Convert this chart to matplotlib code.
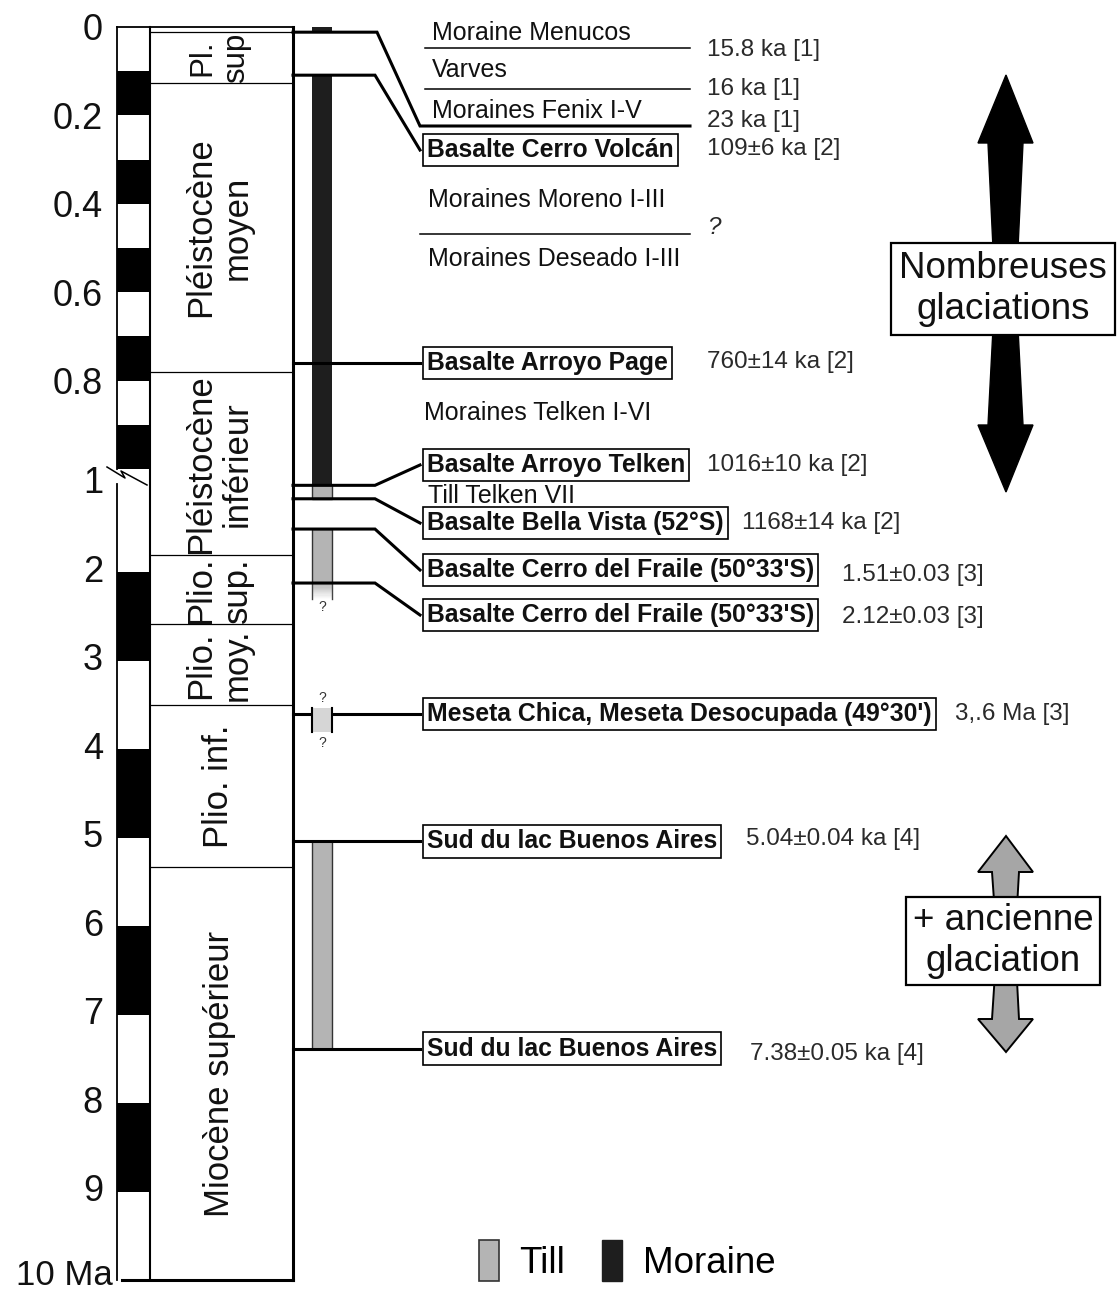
import numpy as np
import matplotlib
matplotlib.use("Agg")
import matplotlib.pyplot as plt
from matplotlib.patches import Patch, Polygon

plt.rcParams['font.family'] = ['Liberation Sans', 'DejaVu Sans']

# ---------------- data ----------------
tick_ages = [0, 0.2, 0.4, 0.6, 0.8, 1, 2, 3, 4, 5, 6, 7, 8, 9, 10]
tick_labels = ["0", "0.2", "0.4", "0.6", "0.8", "1", "2", "3", "4", "5",
               "6", "7", "8", "9", "10 Ma"]

normal_start = [0.1, 0.3, 0.5, 0.7, 0.9, 2, 4, 6, 8]
normal_end = [0.2, 0.4, 0.6, 0.8, 1.0, 3, 5, 7, 9]

epoch_names = ["", "Pl.\nsup", "Pléistocène\nmoyen", "Pléistocène\ninférieur",
               "Plio.\nsup.", "Plio.\nmoy.", "Plio. inf.", "Miocène supérieur"]
epoch_bounds = [0, 0.0117, 0.126, 0.781, 1.806, 2.588, 3.5, 5.33, 10]

moraine_start = [0.0, 0.109]
moraine_end = [0.01, 1.016]
till_start = [1.016, 1.51, 5.04]
till_end = [1.168, 2.12, 7.38]
till_fade = [2.12, 2.30]
till_uncertain = [3.53, 3.80]

dated_sites = ["Basalte Cerro Volcán", "Basalte Arroyo Page", "Basalte Arroyo Telken",
               "Basalte Bella Vista (52°S)", "Basalte Cerro del Fraile (50°33'S)",
               "Basalte Cerro del Fraile (50°33'S)",
               "Meseta Chica, Meseta Desocupada (49°30')",
               "Sud du lac Buenos Aires", "Sud du lac Buenos Aires"]
dated_ages = [0.109, 0.760, 1.016, 1.168, 1.51, 2.12, 3.6, 5.04, 7.38]
dated_values = ["109±6 ka [2]", "760±14 ka [2]", "1016±10 ka [2]", "1168±14 ka [2]",
                "1.51±0.03 [3]", "2.12±0.03 [3]", "3,.6 Ma [3]",
                "5.04±0.04 ka [4]", "7.38±0.05 ka [4]"]

deposit_names = ["Moraine Menucos", "Varves", "Moraines Fenix I-V",
                 "Moraines Moreno I-III", "Moraines Deseado I-III",
                 "Moraines Telken I-VI", "Till Telken VII"]
young_values = ["15.8 ka [1]", "16 ka [1]", "23 ka [1]", "?"]
holocene_base = 0.0117

legend_labels = ["Till", "Moraine"]

# ---------------- broken time scale ----------------
U0, U1, L1, LS, EPS = 27.0, 469.0, 484.0, 88.5, 1e-3


def fwd(a):
    a = np.asarray(a, dtype=float)
    up = U0 + (U1 - U0) * a
    br = U1 + (L1 - U1) * (a - 1) / EPS
    lo = L1 + LS * (a - 1 - EPS)
    return np.where(a <= 1, up, np.where(a <= 1 + EPS, br, lo))


def inv(p):
    p = np.asarray(p, dtype=float)
    up = (p - U0) / (U1 - U0)
    br = 1 + (p - U1) / (L1 - U1) * EPS
    lo = 1 + EPS + (p - L1) / LS
    return np.where(p <= U1, up, np.where(p <= L1, br, lo))


def R(px):
    return float(inv(px))


def P(age):
    return float(fwd(age))


# ---------------- layout ----------------
XP0, XP1, XS1 = 117, 150, 293
XM0, XM1 = 312, 332
XK, XB = 375, 420
site_rows = [150, None, 465, 523, 570, 615, None, None, None]
site_date_x = [707, 707, 707, 742, 842, 842, 955, 746, 750]
site_date_dy = [-1, -1, 0, 0, 5, 2, 0, -2, 5]
deposit_rows = [33, 70, 111, 200, 259, 413, 496]
deposit_x = [432, 432, 432, 428, 428, 424, 428]
young_rows = [50, 89, 121, 228]

fig = plt.figure(figsize=(11.18, 12.94), dpi=100)
ax = fig.add_axes([0, 0, 1, 1])
ax.set_yscale('function', functions=(fwd, inv))
ax.set_autoscale_on(False)
ax.set_xlim(0, 1118)
ax.set_ylim(R(1294), R(0))
ax.axis('off')

K = 'black'
# polarity column
for s, e in zip(normal_start, normal_end):
    if s >= 1:
        s = max(s, 1 + EPS)
    ax.bar((XP0 + XP1) / 2, e - s, width=XP1 - XP0, bottom=s, color=K,
           linewidth=0, zorder=2)
ax.plot([XP0, XP0], [0, 1], color=K, lw=1.3, zorder=3)
ax.plot([XP0, XP0], [1 + EPS, 10], color=K, lw=1.3, zorder=3)
ax.plot([XP0, XS1], [0, 0], color=K, lw=1.3, zorder=3)
ax.plot([XP1, XP1], [0, 10], color=K, lw=1.5, zorder=3)
ax.plot([XS1, XS1], [0, 10], color=K, lw=2.2, zorder=3)
ax.plot([XP0 + 5, XS1], [10, 10], color=K, lw=2.2, zorder=3)
# break marker
ax.plot([107, 125, 121, 147], [R(467), R(478), R(471), R(485)], color=K, lw=1.1, zorder=3)

# tick labels
for t, lab in zip(tick_ages, tick_labels):
    fs = 26
    if t < 1:
        y = R(P(t) + 4)
    elif t == 1:
        y = 1 + EPS
    elif t == 10:
        y = R(P(t) - 5)
        fs = 25
    else:
        y = t
    x = 103 if lab != "10 Ma" else 113
    ax.text(x, y, lab, ha='right', va='center', fontsize=fs, color='#111')

# epochs
for b in epoch_bounds[1:-1]:
    ax.plot([XP1, XS1], [b, b], color=K, lw=0.9, zorder=3)
for i, name in enumerate(epoch_names):
    if not name:
        continue
    yc = R((P(epoch_bounds[i]) + P(epoch_bounds[i + 1])) / 2)
    fs = 22.5 if name.startswith("Pl.") else 25
    ax.text(219, yc, name, rotation=90, ha='center', va='center', fontsize=fs,
            linespacing=1.15, color='#111')

# glacial deposits column
MORAINE_C, TILL_C = '#1e1e1e', '#b4b4b4'
xc = (XM0 + XM1) / 2
for s, e in zip(moraine_start, moraine_end):
    ax.bar(xc, e - s, width=XM1 - XM0, bottom=s, color=MORAINE_C, linewidth=0, zorder=2)
for s, e in zip(till_start, till_end):
    ax.bar(xc, e - s, width=XM1 - XM0, bottom=s, color=TILL_C, edgecolor='#333',
           linewidth=1.0, zorder=2)
# fading lower end of till
n = 14
edges = np.linspace(till_fade[0], till_fade[1], n + 1)
for j in range(n):
    g = 0.706 + (1 - 0.706) * (j + 0.5) / n
    ax.bar(xc, edges[j + 1] - edges[j], width=XM1 - XM0, bottom=edges[j],
           color=(g, g, g), linewidth=0, zorder=2)
ax.plot([XM0, XM0], till_fade, color='#444', lw=1.0, zorder=2)
ax.plot([XM1, XM1], till_fade, color='#444', lw=1.0, zorder=2)
ax.text(xc, till_fade[1] + 0.09, "?", ha='center', va='center', fontsize=10, color='#333')
# uncertain till (Meseta)
ax.bar(xc, till_uncertain[1] - till_uncertain[0], width=XM1 - XM0,
       bottom=till_uncertain[0], color='#d6d6d6', linewidth=0, zorder=4)
ax.plot([XM0, XM0], till_uncertain, color=K, lw=1.5, zorder=5)
ax.plot([XM1, XM1], till_uncertain, color=K, lw=1.5, zorder=5)
ax.text(xc, till_uncertain[0] - 0.11, "?", ha='center', va='center', fontsize=10, color='#333')
ax.text(xc, till_uncertain[1] + 0.13, "?", ha='center', va='center', fontsize=10, color='#333')

# young deposits (upper right)
ax.plot([XS1, 377, XB, 690], [holocene_base, holocene_base, R(126), R(126)],
        color=K, lw=2.2, solid_joinstyle='miter', zorder=3)
ax.plot([425, 690], [R(48), R(48)], color=K, lw=1.1)
ax.plot([425, 690], [R(89), R(89)], color=K, lw=1.1)
ax.plot([XB, 690], [R(234), R(234)], color=K, lw=1.1)
for name, row, x in zip(deposit_names, deposit_rows, deposit_x):
    ax.text(x, R(row), name, ha='left', va='center', fontsize=18, color='#111')
for val, row in zip(young_values, young_rows):
    ax.text(707, R(row), val, ha='left', va='center', fontsize=17.5, color='#2a2a2a',
            style='italic' if val == "?" else 'normal')

# dated sites
for i, (name, age, val) in enumerate(zip(dated_sites, dated_ages, dated_values)):
    row = site_rows[i]
    if row is None:
        xs, ys, yrow = [XS1, XB], [age, age], age
    else:
        xs, ys, yrow = [XS1, XK, XB], [age, age, R(row)], R(row)
    ax.plot(xs, ys, color=K, lw=2.2, solid_joinstyle='miter', zorder=3)
    ax.text(XB + 7, yrow, name, ha='left', va='center', fontsize=17.8, fontweight='bold',
            color='#111', zorder=6,
            bbox=dict(boxstyle='square,pad=0.17', fc='white', ec=K, lw=1.2))
    ax.text(site_date_x[i], R(P(yrow) + site_date_dy[i]), val, ha='left', va='center',
            fontsize=17.5, color='#2a2a2a')

# arrows
black_arrow = [(1006, 75), (1033, 143), (1023, 143), (1016, 290), (1023, 425),
               (1033, 425), (1006, 492), (978, 425), (988, 425), (995, 290),
               (988, 143), (978, 143)]
ax.add_patch(Polygon([(x, R(y)) for x, y in black_arrow], closed=True,
                     fc=K, ec=K, lw=1, zorder=4))
grey_arrow = [(1006, 836), (1033, 872), (1019, 872), (1015, 943), (1019, 1019),
              (1033, 1019), (1006, 1052), (978, 1019), (992, 1019), (997, 943),
              (992, 872), (978, 872)]
ax.add_patch(Polygon([(x, R(y)) for x, y in grey_arrow], closed=True,
                     fc='#a6a6a6', ec=K, lw=1.4, zorder=4))
ax.text(1003, R(289), "Nombreuses\nglaciations", ha='center', va='center',
        fontsize=26.5, linespacing=1.2, color='#111', zorder=6,
        bbox=dict(boxstyle='square,pad=0.22', fc='white', ec=K, lw=1.6))
ax.text(1003, R(941), "+ ancienne\nglaciation", ha='center', va='center',
        fontsize=26.5, linespacing=1.2, color='#111', zorder=6,
        bbox=dict(boxstyle='square,pad=0.18', fc='white', ec=K, lw=1.6))

# legend
handles = [Patch(facecolor=TILL_C, edgecolor='#333', linewidth=1.2),
           Patch(facecolor=MORAINE_C, edgecolor=MORAINE_C)]
fig.legend(handles, legend_labels, loc='center', bbox_to_anchor=(0.561, 0.026),
           ncol=2, frameon=False, fontsize=26.5, handlelength=0.55, handleheight=1.36,
           handletextpad=0.55, columnspacing=1.0)

fig.savefig("out.png", dpi=100, facecolor='white')
